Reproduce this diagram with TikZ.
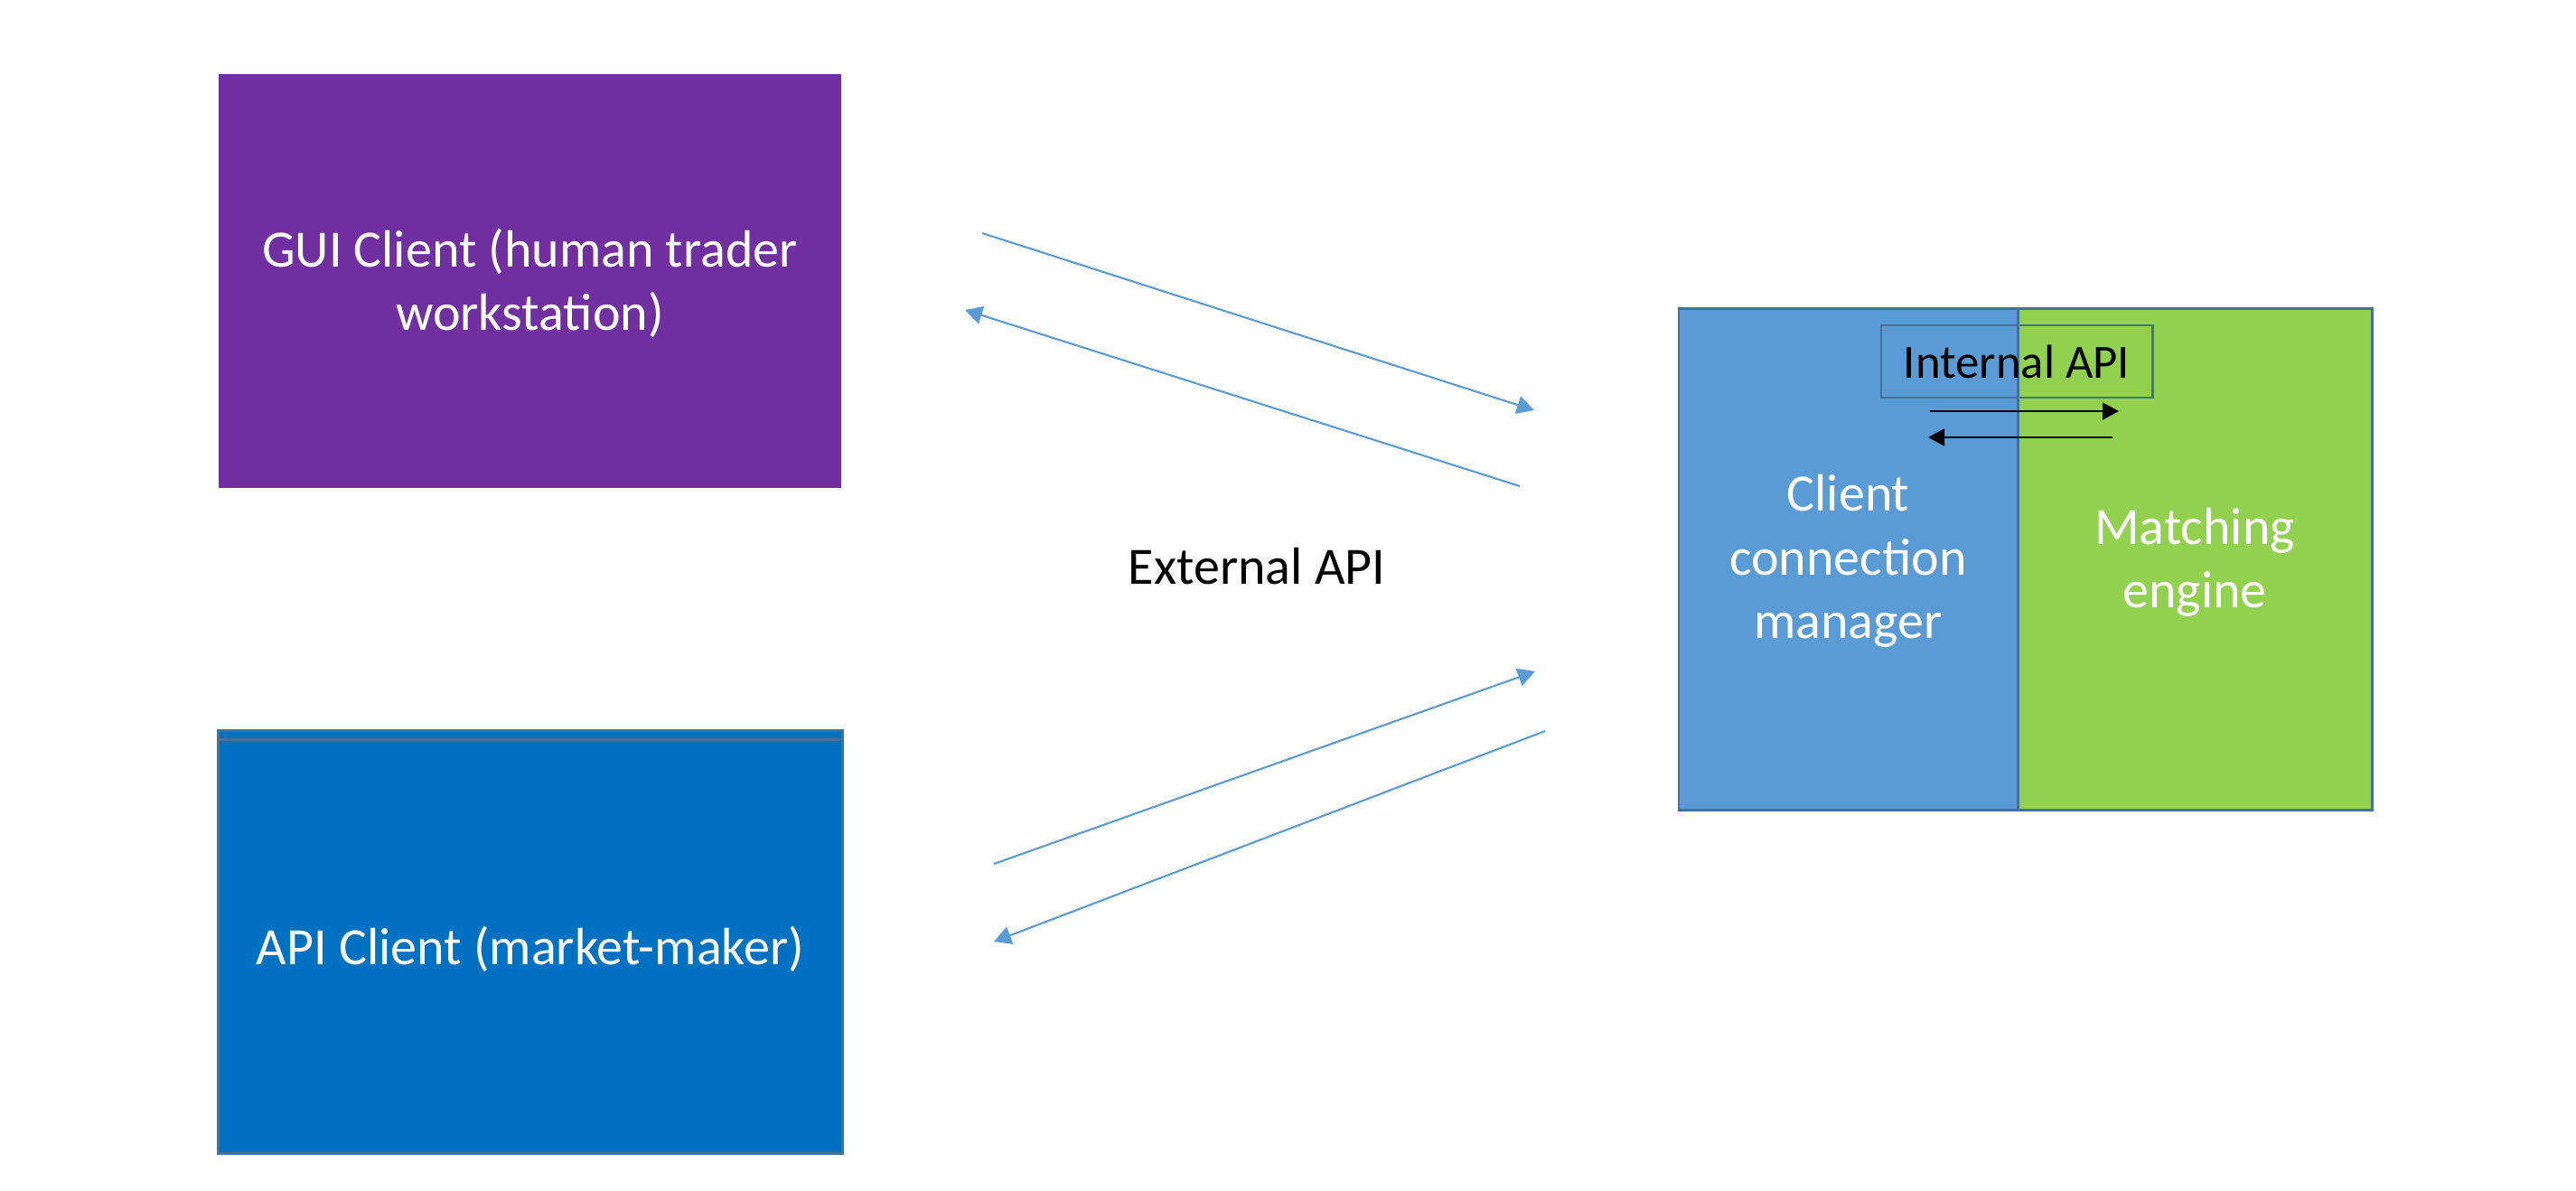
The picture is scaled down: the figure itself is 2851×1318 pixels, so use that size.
\documentclass[tikz,border=0pt]{standalone}
\usepackage{fontspec}
\setmainfont{Carlito}
\usetikzlibrary{arrows.meta}
\definecolor{guipurple}{HTML}{7030A0}
\definecolor{apiblue}{HTML}{0070C0}
\definecolor{ccmblue}{HTML}{5B9BD5}
\definecolor{megreen}{HTML}{92D050}
\definecolor{edgeblue}{HTML}{41719C}
\tikzset{
  box/.style={rectangle, inner sep=0pt, outer sep=0pt, text=white, align=center,
    font=\fontsize{16.5}{20}\selectfont},
  extarrow/.style={draw=ccmblue, line width=0.6pt, -{Triangle[length=0.19cm,width=0.2cm]}},
  intarrow/.style={draw=black, line width=0.55pt, -{Triangle[length=0.18cm,width=0.19cm]}},
  lbl/.style={inner sep=0pt, font=\fontsize{16.5}{20}\selectfont},
}
\begin{document}
\begin{tikzpicture}[x=0.01cm,y=-0.01cm]
\useasboundingbox (0,0) rectangle (2851,1318);
% GUI client
\node[box, fill=guipurple, minimum width=6.89cm, minimum height=4.58cm] (gui) at (586.5,311) {};
\node[box] (guitext) at (586.5,313) {GUI Client (human trader\\workstation)};
% API client
\node[box, fill=apiblue, draw=edgeblue, line width=0.8pt, minimum width=6.9cm, minimum height=4.67cm] (api) at (587,1042.5) {};
\draw[edgeblue, line width=0.8pt] ([yshift=-0.1cm]api.north west) -- ([yshift=-0.1cm]api.north east);
\node[box] (apitext) at (587,1050) {API Client (market-maker)};
% Exchange
\node[box, fill=ccmblue, minimum width=3.75cm, minimum height=5.54cm] (ccm) at (2045.5,619) {};
\node[box, fill=megreen, minimum width=3.92cm, minimum height=5.54cm] (me) at (2429,619) {};
\draw[edgeblue, line width=0.8pt] (ccm.north west) rectangle (me.south east);
\draw[edgeblue, line width=0.8pt] (ccm.north east) -- (ccm.south east);
\node[box] (ccmtext) at (2045.5,621) {Client\\connection\\manager};
\node[box] (metext) at (2429,622) {Matching\\engine};
\node[box, draw=edgeblue, line width=0.8pt, text=black, minimum width=3.0cm, minimum height=0.8cm,
  font=\fontsize{15}{18}\selectfont] (iapi) at (2232,400) {Internal API};
% internal arrows
\coordinate (ia1s) at (2136,455);
\coordinate (ia1e) at (2345,455);
\coordinate (ia2s) at (2338,484);
\coordinate (ia2e) at (2134,484);
\draw[intarrow] (ia1s) -- (ia1e);
\draw[intarrow] (ia2s) -- (ia2e);
% external API label
\node[lbl] (extapi) at (1391,627) {External API};
% external arrows
\coordinate (a1s) at (1087,258);
\coordinate (a1e) at (1698,454);
\coordinate (a2s) at (1682,538);
\coordinate (a2e) at (1068,343);
\coordinate (a3s) at (1100,956);
\coordinate (a3e) at (1699,743);
\coordinate (a4s) at (1710,809);
\coordinate (a4e) at (1100,1042);
\draw[extarrow] (a1s) -- (a1e);
\draw[extarrow] (a2s) -- (a2e);
\draw[extarrow] (a3s) -- (a3e);
\draw[extarrow] (a4s) -- (a4e);
\end{tikzpicture}
\end{document}
